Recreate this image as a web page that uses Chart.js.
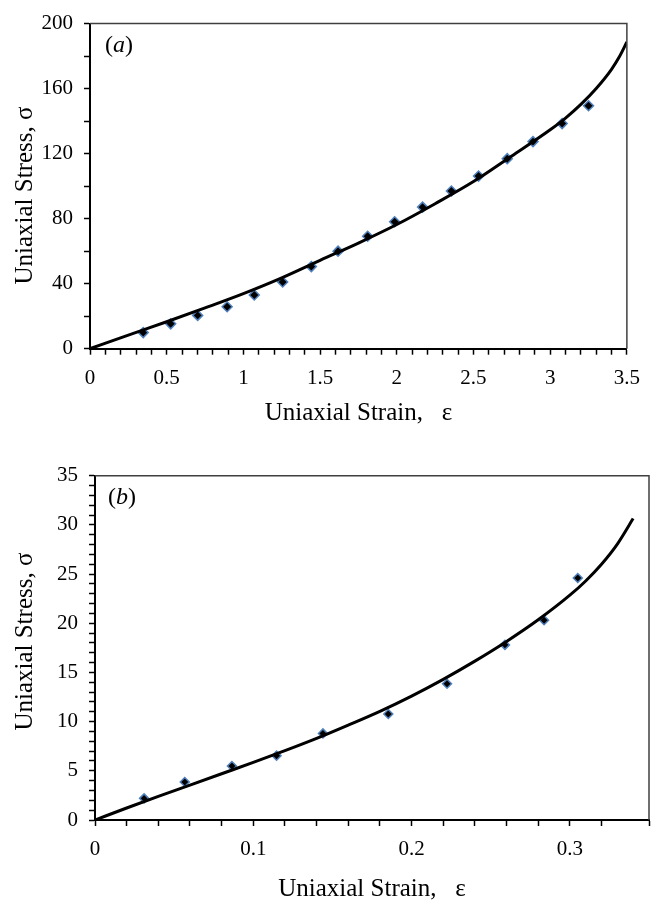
<!DOCTYPE html>
<html>
<head>
<meta charset="utf-8">
<script src="https://cdn.jsdelivr.net/npm/chart.js@4.4.1/dist/chart.umd.min.js"></script>
<style>
html,body{margin:0;padding:0;background:#fff;overflow:hidden;width:651px;height:900px;}
#wrapA{position:absolute;left:0;top:0;width:651px;height:440px;}
#wrapB{position:absolute;left:0;top:440px;width:660px;height:470px;}
</style>
</head>
<body>
<div id="wrapA"><canvas id="chartA" width="651" height="440"></canvas></div>
<div id="wrapB"><canvas id="chartB" width="660" height="470"></canvas></div>
<script>
// panel (a): measured points and model curve
const strainA = [0.347, 0.526, 0.702, 0.894, 1.071, 1.256, 1.443, 1.617, 1.81, 1.986, 2.168, 2.356, 2.533, 2.72, 2.888, 3.078, 3.25];
const stressA = [9.9, 15.3, 20.5, 25.8, 33.0, 41.0, 50.5, 60.0, 69.2, 78.1, 87.1, 97.0, 106.2, 116.9, 127.4, 138.5, 149.5];
const curveStrainA = [0, 0.25, 0.5, 0.75, 1.0, 1.25, 1.5, 1.75, 2.0, 2.25, 2.5, 2.75, 3.0, 3.1, 3.2, 3.3, 3.4, 3.45, 3.5];
const curveStressA = [0, 8.4, 16.6, 25.1, 33.9, 43.6, 54.4, 65.0, 76.4, 89.2, 102.8, 118.6, 134.7, 141.9, 150.3, 160.1, 171.9, 179.4, 188.7];

// panel (b)
const strainB = [0.031, 0.0567, 0.0865, 0.1147, 0.144, 0.1853, 0.2224, 0.259, 0.2837, 0.305];
const stressB = [2.2, 3.86, 5.49, 6.54, 8.8, 10.77, 13.85, 17.8, 20.3, 24.6];
const curveStrainB = [0, 0.02, 0.04, 0.06, 0.08, 0.10, 0.12, 0.14, 0.16, 0.18, 0.20, 0.22, 0.24, 0.26, 0.28, 0.30, 0.31, 0.32, 0.33, 0.34];
const curveStressB = [0, 1.22, 2.4, 3.55, 4.7, 5.85, 7.05, 8.3, 9.65, 11.05, 12.6, 14.3, 16.15, 18.15, 20.35, 22.85, 24.3, 26.0, 28.05, 30.65];

const serif = "'Liberation Serif', 'Times New Roman', serif";

const framePlugin = {
  id: "frame",
  afterDraw(chart, args, opts) {
    const ctx = chart.ctx, a = chart.chartArea;
    ctx.save();
    ctx.strokeStyle = "#404040";
    ctx.lineWidth = 1.5;
    ctx.beginPath();
    ctx.moveTo(a.left, a.top);
    ctx.lineTo(a.right, a.top);
    ctx.lineTo(a.right, a.bottom);
    ctx.stroke();
    // panel letter, italic inside brackets
    ctx.fillStyle = "#000";
    ctx.textBaseline = "middle";
    let x = a.left + opts.dx;
    const y = a.top + 22;
    ctx.font = "24px " + serif;
    ctx.fillText("(", x, y);
    x += ctx.measureText("(").width;
    ctx.font = "italic 24px " + serif;
    ctx.fillText(opts.letter, x, y);
    x += ctx.measureText(opts.letter).width;
    ctx.font = "24px " + serif;
    ctx.fillText(")", x, y);
    ctx.restore();
  }
};

function pts(xs, ys) {
  return xs.map((x, i) => ({x: x, y: ys[i]}));
}

function makeChart(id, c) {
  return new Chart(document.getElementById(id), {
    type: "scatter",
    data: {
      datasets: [{
        data: pts(c.curveX, c.curveY),
        showLine: true,
        borderColor: "#000",
        borderWidth: 3,
        pointRadius: 0,
        cubicInterpolationMode: "monotone"
      }, {
        data: pts(c.ptX, c.ptY),
        pointStyle: "rectRot",
        pointRadius: c.r,
        backgroundColor: "#000",
        borderColor: "#4f81bd",
        borderWidth: 1.5
      }]
    },
    options: {
      responsive: false,
      animation: false,
      devicePixelRatio: 1,
      layout: {padding: c.pad},
      plugins: {
        legend: {display: false},
        tooltip: {enabled: false},
        frame: {letter: c.letter, dx: c.dx}
      },
      scales: {
        x: {
          type: "linear",
          min: 0,
          max: c.xMax,
          afterFit: s => { s.height = c.xH; },
          border: {display: true, color: "#000", width: 2},
          grid: {drawOnChartArea: false, drawTicks: true, tickLength: 6, tickColor: "#000", tickWidth: 1.5},
          ticks: {
            stepSize: c.xStep,
            autoSkip: false,
            maxRotation: 0,
            padding: 11,
            color: "#000",
            font: {family: serif, size: 21},
            callback: c.xLabel
          },
          title: {
            display: true,
            text: "Uniaxial Strain,   ε",
            color: "#000",
            font: {family: serif, size: 25, lineHeight: 1},
            padding: {top: 0, bottom: c.xTitlePad}
          }
        },
        y: {
          min: 0,
          max: c.yMax,
          afterFit: s => { s.width = c.yW; },
          border: {display: true, color: "#000", width: 2},
          grid: {drawOnChartArea: false, drawTicks: true, tickLength: 6, tickColor: "#000", tickWidth: 1.5},
          ticks: {
            stepSize: c.yStep,
            autoSkip: false,
            padding: 11,
            color: "#000",
            font: {family: serif, size: 21},
            callback: c.yLabel
          },
          title: {
            display: true,
            text: c.yTitle,
            color: "#000",
            font: {family: serif, size: 25, lineHeight: 1},
            padding: {top: 13, bottom: 0}
          }
        }
      }
    },
    plugins: [framePlugin]
  });
}

makeChart("chartA", {
  curveX: curveStrainA, curveY: curveStressA,
  ptX: strainA, ptY: stressA, r: 5,
  pad: {top: 17.3, right: 12.7, left: 0, bottom: 0},
  xMax: 3.5, xStep: 0.1, xH: 91.3, xTitlePad: 14.5,
  xLabel: v => Math.round(v * 10) % 5 === 0 ? String(+v.toFixed(1)) : "",
  yMax: 200, yStep: 20, yW: 90,
  yLabel: v => Math.round(v) % 40 === 0 ? String(Math.round(v)) : "",
  yTitle: "Uniaxial Stress, σ\u00a0\u00a0\u00a0",
  letter: "a", dx: 15
});

makeChart("chartB", {
  curveX: curveStrainB, curveY: curveStressB,
  ptX: strainB, ptY: stressB, r: 4.5,
  pad: {top: 35.7, right: 7.8, left: 0, bottom: 0},
  xMax: 0.35, xStep: 0.02, xH: 90, xTitlePad: 8,
  xLabel: v => Math.round(v * 100) % 10 === 0 ? String(+v.toFixed(2)) : "",
  yMax: 35, yStep: 1, yW: 95,
  yLabel: v => Math.round(v) % 5 === 0 ? String(Math.round(v)) : "",
  yTitle: "\u00a0\u00a0Uniaxial Stress, σ",
  letter: "b", dx: 13
});
</script>
</body>
</html>
